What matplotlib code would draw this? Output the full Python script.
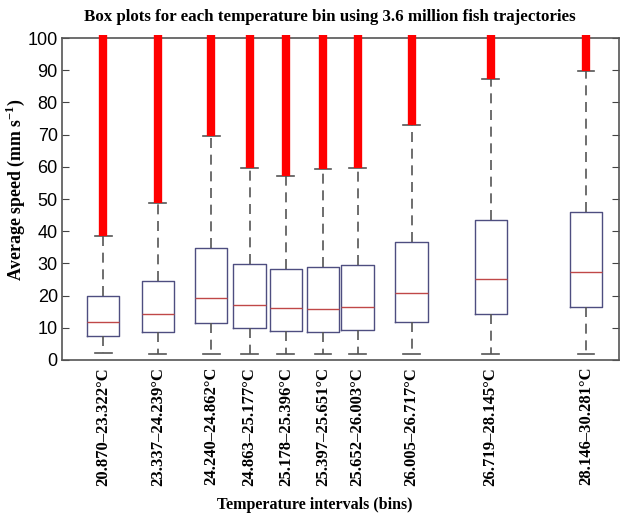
import matplotlib

matplotlib.use("Agg")
import matplotlib.pyplot as plt

# Bin labels and where each box sits along the axis
bin_labels = [
    "20.870–23.322°C",
    "23.337–24.239°C",
    "24.240–24.862°C",
    "24.863–25.177°C",
    "25.178–25.396°C",
    "25.397–25.651°C",
    "25.652–26.003°C",
    "26.005–26.717°C",
    "26.719–28.145°C",
    "28.146–30.281°C",
]
positions = [0.74, 1.72, 2.68, 3.37, 4.02, 4.69, 5.31, 6.28, 7.70, 9.41]

# Box statistics (mm s^-1)
whis_lo = [2.2, 2.0, 2.0, 2.0, 2.0, 2.0, 2.0, 2.0, 2.0, 2.0]
q1 = [7.4, 8.6, 11.4, 9.8, 9.0, 8.6, 9.2, 11.9, 14.4, 16.6]
median = [11.7, 14.2, 19.4, 17.0, 16.0, 15.7, 16.6, 20.9, 25.3, 27.4]
q3 = [20.0, 24.5, 34.7, 29.8, 28.2, 28.8, 29.5, 36.6, 43.6, 46.0]
whis_hi = [38.6, 48.7, 69.7, 59.5, 57.1, 59.2, 59.5, 72.9, 87.4, 89.8]
# outliers run from the upper whisker up past the axis top
outlier_top = 101

plt.rcParams["mathtext.fontset"] = "custom"
plt.rcParams["mathtext.rm"] = "Liberation Serif:bold"
plt.rcParams["mathtext.bf"] = "Liberation Serif:bold"

fig = plt.figure(figsize=(6.2, 5.15), dpi=100)
ax = fig.add_axes([0.1, 0.301, 0.898, 0.625])

stats = []
for i in range(len(bin_labels)):
    stats.append(
        {
            "whislo": whis_lo[i],
            "q1": q1[i],
            "med": median[i],
            "q3": q3[i],
            "whishi": whis_hi[i],
            "fliers": [],
        }
    )

ax.bxp(
    stats,
    positions=positions,
    widths=0.58,
    capwidths=0.3,
    showfliers=False,
    boxprops=dict(color="#4e4e80", linewidth=1.0),
    medianprops=dict(color="#c04848", linewidth=1.0),
    whiskerprops=dict(color="#555555", linewidth=1.2, linestyle=(0, (6, 4))),
    capprops=dict(color="#555555", linewidth=1.2),
)

# dense outliers look like a solid red bar
ax.vlines(
    positions, whis_hi, outlier_top, colors="#ff0000", linewidth=6, zorder=3,
    clip_on=False,
)

ax.set_xlim(0, 10)
ax.set_ylim(0, 100)
ax.set_yticks(range(0, 101, 10))
ax.set_xticks(positions)
ax.set_xticklabels(
    bin_labels, rotation=90, fontfamily="Liberation Serif", fontweight="bold",
    fontsize=12,
)
ax.tick_params(axis="x", length=0, pad=5)
ax.tick_params(
    axis="y", direction="in", right=True, length=5, color="#444444",
    labelsize=13, pad=3,
)
for lab in ax.get_yticklabels():
    lab.set_fontfamily("Liberation Sans")

for sp in ax.spines.values():
    sp.set_color("#555555")
    sp.set_linewidth(1.2)

ax.set_title(
    "Box plots for each temperature bin using 3.6 million fish trajectories",
    fontfamily="Liberation Serif", fontweight="bold", fontsize=12.2, pad=12,
    x=0.481,
)
ax.set_xlabel(
    "Temperature intervals (bins)", fontfamily="Liberation Serif",
    fontweight="bold", fontsize=11.5,
)
ax.xaxis.set_label_coords(0.454, -0.425)
ax.set_ylabel(
    r"Average speed (mm s$^{\mathbf{-1}}$)", fontfamily="Liberation Serif",
    fontweight="bold", fontsize=12.8,
)
ax.yaxis.set_label_coords(-0.063, 0.528)

fig.savefig("out.png", dpi=100)
